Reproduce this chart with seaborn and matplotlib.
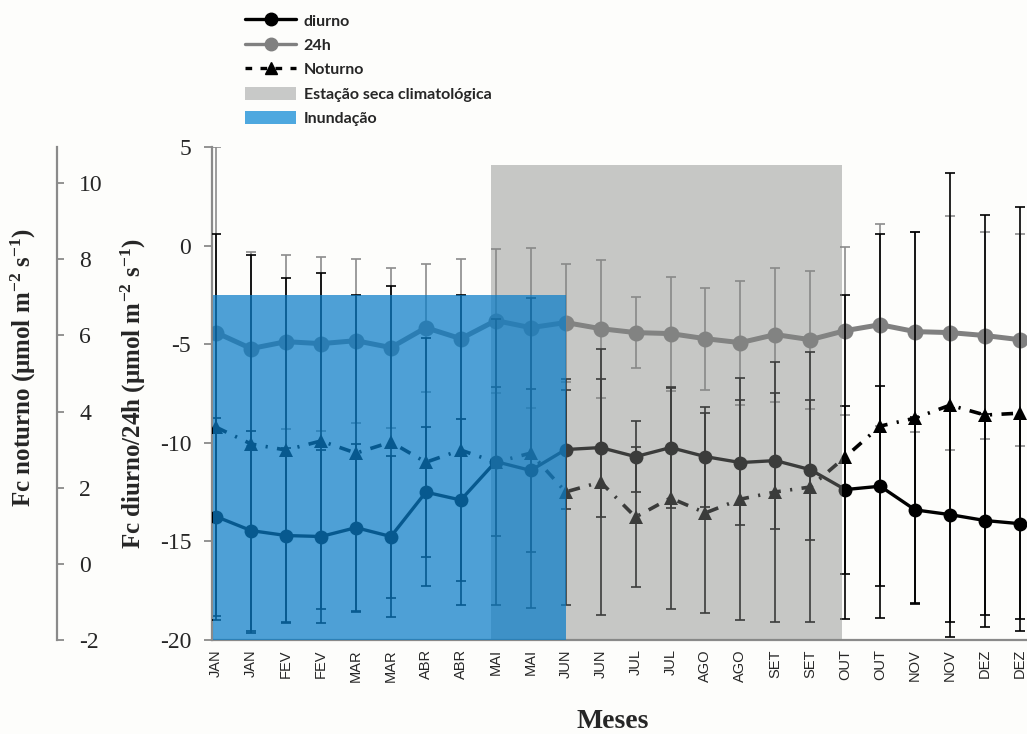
import numpy as np
import matplotlib
matplotlib.use("Agg")
import matplotlib.pyplot as plt
import seaborn as sns
from matplotlib.patches import Rectangle, Patch
from matplotlib.lines import Line2D

# Month slots (two sampling periods per month)
meses = ["JAN", "JAN", "FEV", "FEV", "MAR", "MAR", "ABR", "ABR", "MAI", "MAI", "JUN", "JUN",
         "JUL", "JUL", "AGO", "AGO", "SET", "SET", "OUT", "OUT", "NOV", "NOV", "DEZ", "DEZ"]

# Daytime flux (left inner axis)
fc_diurno = [-13.74, -14.45, -14.70, -14.75, -14.30, -14.75, -12.50, -12.90, -10.95, -11.40,
             -10.34, -10.24, -10.70, -10.24, -10.70, -11.00, -10.90, -11.36, -12.37, -12.20,
             -13.40, -13.64, -13.94, -14.10]
fc_diurno_err = [5.02, 5.07, 4.46, 4.41, 4.26, 4.06, 3.30, 4.11, 3.78, 4.13, 3.04, 3.50,
                 1.80, 3.04, 2.54, 3.19, 3.45, 3.55, 4.26, 5.07, 4.72, 5.43, 5.38, 5.43]

# 24 h flux (left inner axis)
fc_24h = [-4.41, -5.22, -4.87, -4.97, -4.82, -5.17, -4.16, -4.72, -3.80, -4.16, -3.90, -4.21,
          -4.41, -4.46, -4.72, -4.92, -4.51, -4.77, -4.31, -4.01, -4.36, -4.41, -4.56, -4.77]
fc_24h_err = [9.43, 4.92, 4.41, 4.41, 4.16, 4.06, 3.25, 4.06, 3.65, 4.06, 2.99, 3.50,
              1.80, 2.89, 2.59, 3.14, 3.40, 3.50, 4.26, 5.12, 5.07, 5.93, 5.27, 5.38]

# Night-time flux (outer axis)
fc_noturno = [3.59, 3.15, 2.99, 3.23, 2.91, 3.20, 2.67, 2.99, 2.67, 2.91, 1.89, 2.15,
              1.23, 1.73, 1.34, 1.70, 1.89, 2.02, 2.81, 3.62, 3.83, 4.17, 3.91, 3.96]
fc_noturno_err = [5.07, 4.96, 4.52, 4.41, 4.15, 4.10, 3.26, 4.07, 3.76, 4.07, 2.97, 3.49,
                  1.84, 2.91, 2.63, 3.18, 3.41, 3.55, 4.25, 5.04, 4.88, 6.09, 5.25, 5.41]

# Shaded periods: (start slot, end slot, top value on the diurno/24h axis)
inundacao = (-0.1, 10.0, -2.5)
estacao_seca = (7.85, 17.9, 4.1)

sns.set_style("white")
plt.rcParams["font.family"] = ["Liberation Serif", "DejaVu Serif"]
plt.rcParams["axes.unicode_minus"] = False
plt.rcParams["mathtext.fontset"] = "custom"
plt.rcParams["mathtext.rm"] = "Liberation Serif:bold"
plt.rcParams["mathtext.bf"] = "Liberation Serif:bold"
plt.rcParams["mathtext.default"] = "bf"

BG = "#fdfdfb"
AXC = "#8a8a8a"
GREY_LINE = "#808080"
GREY_FILL = "#858785"
BLUE_FILL = "#0a7dc8"

fig = plt.figure(figsize=(10.27, 7.34), dpi=100, facecolor=BG)
ax = fig.add_axes([0.2064, 0.128, 0.7936, 0.6717], facecolor="none")

x = np.arange(len(meses))

# 24 h series
ax.errorbar(x, fc_24h, yerr=fc_24h_err, fmt="none", ecolor="#8c8c8c",
            elinewidth=1.2, capsize=3.6, capthick=1.2, zorder=2)
sns.lineplot(x=x, y=fc_24h, ax=ax, color=GREY_LINE, linewidth=3.6, marker="o",
             markersize=11.5, markeredgewidth=0, zorder=3)

# daytime series
ax.errorbar(x, fc_diurno, yerr=fc_diurno_err, fmt="none", ecolor="black",
            elinewidth=1.2, capsize=3.6, capthick=1.2, zorder=2)
sns.lineplot(x=x, y=fc_diurno, ax=ax, color="black", linewidth=2.4, marker="o",
             markersize=10, markeredgewidth=0, zorder=3)

ax.set_xlim(-0.12, 23.2)
ax.set_ylim(-20, 5)
ax.set_yticks([5, 0, -5, -10, -15, -20])
ax.set_xticks(x)
ax.set_xticklabels(meses, rotation=90, fontfamily="Liberation Sans", fontsize=10.5)
ax.set_xticks(x[::2], minor=True)
ax.tick_params(axis="x", which="major", direction="inout", length=5, width=1.3,
               color=AXC, pad=4)
ax.tick_params(axis="x", which="minor", direction="inout", length=10, width=1.3, color=AXC)
ax.tick_params(axis="y", direction="out", length=6, width=1.3, color=AXC,
               labelsize=17, pad=9)
for s in ["top", "right"]:
    ax.spines[s].set_visible(False)
for s in ["left", "bottom"]:
    ax.spines[s].set_color(AXC)
    ax.spines[s].set_linewidth(1.6)

ax.set_ylabel("Fc diurno/24h (μmol m$^{-2}$ s$^{-1}$)", fontsize=18, fontweight="bold",
              rotation=90, ha="center", va="center", rotation_mode="default")
ax.yaxis.set_label_coords(-0.0969, 0.501)
ax.set_xlabel("Meses", fontsize=20, fontweight="bold", va="top")
ax.xaxis.set_label_coords(0.492, -0.14)

# Night-time series on an outer axis
ax2 = ax.twinx()
ax2.errorbar(x, fc_noturno, yerr=fc_noturno_err, fmt="none", ecolor="black",
             elinewidth=1.2, capsize=3.6, capthick=1.2, zorder=2)
sns.lineplot(x=x, y=fc_noturno, ax=ax2, color="black", linewidth=2.6, marker="^",
             markersize=10, markeredgewidth=0, zorder=3, dashes=False)
ax2.lines[-1].set_linestyle((0, (3.2, 2.6, 0.6, 2.6)))
ax2.set_ylim(-2, 10.95)
ax2.set_yticks([-2, 0, 2, 4, 6, 8, 10])
for s in ["top", "left", "bottom"]:
    ax2.spines[s].set_visible(False)
ax2.spines["right"].set_position(("axes", -0.19))
ax2.spines["right"].set_color(AXC)
ax2.spines["right"].set_linewidth(1.6)
ax2.tick_params(axis="y", direction="out", length=5, width=1.3, color=AXC,
                labelsize=17, pad=11)
ax2.set_ylabel("Fc noturno (μmol m$^{-2}$ s$^{-1}$)", fontsize=18, fontweight="bold",
               rotation=90, ha="center", va="center", rotation_mode="default")
ax2.yaxis.set_label_coords(-0.2319, 0.552)

# Shaded periods drawn over the series
for (x0, x1, top), col, a, z in [(estacao_seca, GREY_FILL, 0.45, 5),
                                  (inundacao, BLUE_FILL, 0.72, 6)]:
    ax2.add_patch(Rectangle((x0, -20), x1 - x0, top + 20, transform=ax.transData,
                            facecolor=col, edgecolor="none", alpha=a, zorder=z))

handles = [
    Line2D([], [], color="black", lw=2.4, marker="o", markersize=9),
    Line2D([], [], color=GREY_LINE, lw=2.4, marker="o", markersize=9),
    Line2D([], [], color="black", lw=2.4, marker="^", markersize=9, linestyle=(0, (2, 2.5))),
    Patch(facecolor="#c8c9c8", edgecolor="none"),
    Patch(facecolor="#4ea8df", edgecolor="none"),
]
labels = ["diurno", "24h", "Noturno", "Estação seca climatológica", "Inundação"]
fig.legend(handles, labels, loc="upper left", bbox_to_anchor=(0.228, 0.997),
           frameon=False, handlelength=3.2, handleheight=0.9, handletextpad=0.45,
           labelspacing=0.58, borderpad=0.2,
           prop={"family": ["Lato", "DejaVu Sans"], "weight": "bold", "size": 11.5})

fig.savefig("out.png", dpi=100, facecolor=BG)
